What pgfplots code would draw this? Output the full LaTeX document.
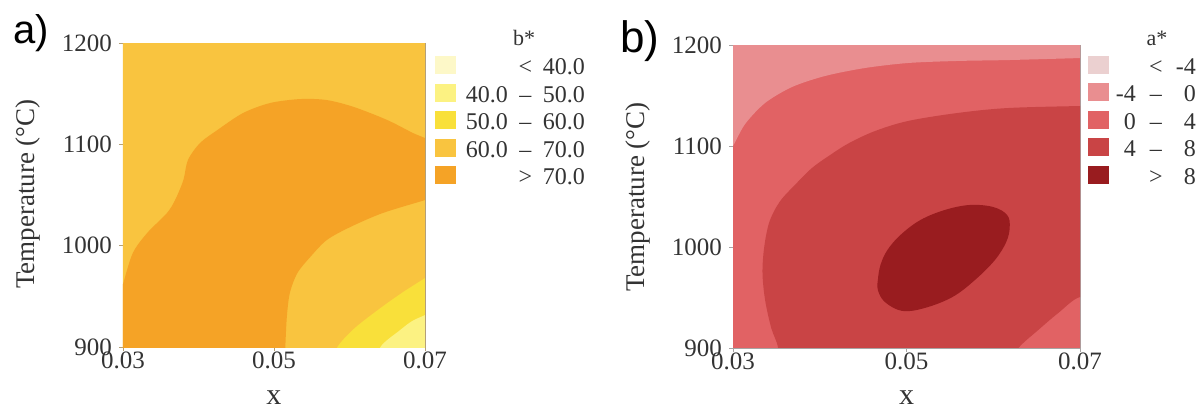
\documentclass[border=0pt]{standalone}
\usepackage{pgfplots}
\pgfplotsset{compat=1.18}
\usepackage{fontspec}
\setmainfont{Liberation Serif}
\newfontfamily\sansf{Liberation Sans}
\definecolor{ya}{HTML}{FDF8C8}
\definecolor{yb}{HTML}{FCF282}
\definecolor{yc}{HTML}{F9E03A}
\definecolor{yd}{HTML}{F9C43F}
\definecolor{ye}{HTML}{F5A326}
\definecolor{ra}{HTML}{EBD0D0}
\definecolor{rb}{HTML}{E98E90}
\definecolor{rc}{HTML}{E16264}
\definecolor{rd}{HTML}{C94445}
\definecolor{re}{HTML}{991C1F}
\definecolor{framea}{RGB}{180,160,120}
\definecolor{frameb}{RGB}{168,164,164}
\definecolor{txt}{HTML}{333333}
\pgfplotsset{
  common/.style={
    scale only axis, anchor=south west,
    xmin=0.03, xmax=0.07, ymin=900, ymax=1200,
    scaled x ticks=false, scaled y ticks=false,
    xtick={0.03,0.05,0.07}, xticklabels={0.03,0.05,0.07},
    ytick={900,1000,1100,1200}, yticklabels={900,1000,1100,1200},
    tick pos=left, tick align=outside, major tick length=2pt,
    ticklabel style={font=\fontsize{12.5}{14}\selectfont, text=txt},
    xticklabel style={yshift=3pt},
    label style={text=txt},
    xlabel={x}, ylabel={Temperature (°C)},
    xlabel style={font=\fontsize{15}{17}\selectfont, anchor=center},
    ylabel style={font=\fontsize{13.5}{16}\selectfont, anchor=center},
    legend cell align=left,
    legend image code/.code={\path[##1] (0pt,-2pt) rectangle (10.5pt,7pt);},
  },
  leg/.style={legend style={at={(axis description cs:#1)}, anchor=north west,
    draw=none, fill=none, inner sep=0pt, outer sep=0pt,
    font=\fontsize{12}{14}\selectfont, text=txt, row sep=0pt,
    nodes={inner sep=0pt, text height=9pt, text depth=4.5pt}}},
}
\begin{document}
\begin{tikzpicture}
\path[use as bounding box] (0,0) rectangle (600pt,-205.5pt);
% ---------------- panel a ----------------
\begin{axis}[common, at={(61.5pt,-173.5pt)}, width=151pt, height=152pt,
  axis line style={draw=framea}, tick style={draw=framea},
  xlabel style={at={(axis description cs:0.5,-0.165)}},
  ylabel style={at={(axis description cs:-0.315,0.503)}},
  leg={1.033,0.957}, legend style={column sep=5pt}]
\addplot[fill=yd, draw=none, forget plot] coordinates {(0.029,890) (0.071,890) (0.071,1210) (0.029,1210)};
\addplot[fill=ye, draw=none, smooth, tension=0.5, forget plot] coordinates {
(0.0514,880) (0.0290,880) (0.0292,940) (0.0300,962) (0.0313,992.7) (0.0332,1012.5)
(0.0358,1032) (0.0369,1045) (0.0380,1064.8) (0.0386,1084.5) (0.0402,1101.3)
(0.0425,1114.1) (0.0459,1130.9) (0.0495,1140.8) (0.0535,1144.7) (0.0570,1143.7)
(0.0606,1136.8) (0.0650,1124) (0.0684,1111.2) (0.0700,1106.2) (0.0720,1098)
(0.0725,1075) (0.0720,1050) (0.0700,1045) (0.0644,1032.2) (0.0601,1018.4)
(0.0570,1005.6) (0.0548,988.8) (0.0531,973) (0.0521,953.3) (0.0517,929.6) (0.0515,900)};
\addplot[fill=yc, draw=none, smooth, tension=0.5, forget plot] coordinates {
(0.0575,880) (0.0584,900) (0.0607,918.7) (0.0641,938.4) (0.0671,954.2) (0.0700,968)
(0.0725,980) (0.0750,960) (0.0750,880)};
\addplot[fill=yb, draw=none, smooth, tension=0.5, forget plot] coordinates {
(0.0638,880) (0.0641,900) (0.0667,916.7) (0.0683,925.6) (0.0700,931.5)
(0.0725,940) (0.0750,920) (0.0750,880)};
\addlegendimage{fill=ya, draw=none}
\addlegendentry{\makebox[21pt][r]{}\makebox[17.5pt]{<}\makebox[21pt][r]{40.0}}
\addlegendimage{fill=yb, draw=none}
\addlegendentry{\makebox[21pt][r]{40.0}\makebox[17.5pt]{–}\makebox[21pt][r]{50.0}}
\addlegendimage{fill=yc, draw=none}
\addlegendentry{\makebox[21pt][r]{50.0}\makebox[17.5pt]{–}\makebox[21pt][r]{60.0}}
\addlegendimage{fill=yd, draw=none}
\addlegendentry{\makebox[21pt][r]{60.0}\makebox[17.5pt]{–}\makebox[21pt][r]{70.0}}
\addlegendimage{fill=ye, draw=none}
\addlegendentry{\makebox[21pt][r]{}\makebox[17.5pt]{>}\makebox[21pt][r]{70.0}}
\end{axis}
% ---------------- panel b ----------------
\begin{axis}[common, at={(366.5pt,-174pt)}, width=173.5pt, height=151.5pt,
  axis line style={draw=frameb}, tick style={draw=frameb},
  xlabel style={at={(axis description cs:0.5,-0.165)}},
  ylabel style={at={(axis description cs:-0.274,0.498)}},
  leg={1.023,0.964}, legend style={column sep=3.5pt}]
\addplot[fill=rc, draw=none, forget plot] coordinates {(0.029,890) (0.071,890) (0.071,1210) (0.029,1210)};
\addplot[fill=rb, draw=none, smooth, tension=0.5, forget plot] coordinates {
(0.0285,1080) (0.0300,1100) (0.0314,1121.8) (0.0337,1142.6) (0.0368,1158.4)
(0.0406,1169.3) (0.0452,1177.2) (0.0502,1182.2) (0.0559,1184.2) (0.0617,1185.1)
(0.0700,1187.1) (0.0720,1188) (0.0740,1230) (0.0270,1230)};
\addplot[fill=rd, draw=none, smooth, tension=0.55, forget plot] coordinates {
(0.0354,870) (0.0352,900) (0.0344,920) (0.0337,947.5) (0.0334,974.3)
(0.0336,1000) (0.0342,1025) (0.0354,1045) (0.0372,1062) (0.0391,1078.2)
(0.0412,1091.1) (0.0434,1103) (0.0464,1114.9) (0.0502,1124.8) (0.0559,1132.7)
(0.0617,1137.6) (0.0700,1139.6) (0.0730,1140) (0.0750,1050) (0.0730,948)
(0.0700,950.5) (0.0675,934.7) (0.0652,917.9) (0.0629,900) (0.0615,880) (0.0450,865)};
\addplot[fill=re, draw=none, smooth, tension=0.6, forget plot] coordinates {
(0.0467,957.4) (0.0467,967.4) (0.0470,982.2) (0.0478,997) (0.0493,1011.9)
(0.0516,1026.7) (0.0544,1036.6) (0.0573,1041.6) (0.0600,1039.6) (0.0616,1031.7)
(0.0619,1019.8) (0.0615,1005) (0.0602,987.2) (0.0579,967.4) (0.0553,950.5)
(0.0521,939.6) (0.0495,936.7) (0.0475,945.6) (0.0467,957.4) (0.0467,967.4)};
\addlegendimage{fill=ra, draw=none}
\addlegendentry{\makebox[10pt][r]{}\makebox[20pt]{<}\makebox[10pt][r]{-4}}
\addlegendimage{fill=rb, draw=none}
\addlegendentry{\makebox[10pt][r]{-4}\makebox[20pt]{–}\makebox[10pt][r]{0}}
\addlegendimage{fill=rc, draw=none}
\addlegendentry{\makebox[10pt][r]{0}\makebox[20pt]{–}\makebox[10pt][r]{4}}
\addlegendimage{fill=rd, draw=none}
\addlegendentry{\makebox[10pt][r]{4}\makebox[20pt]{–}\makebox[10pt][r]{8}}
\addlegendimage{fill=re, draw=none}
\addlegendentry{\makebox[10pt][r]{}\makebox[20pt]{>}\makebox[10pt][r]{8}}
\end{axis}
% panel letters and legend titles
\node[font=\sansf\fontsize{20}{24}\selectfont, text=black] at (15.5pt,-16.5pt) {a)};
\node[font=\sansf\fontsize{22}{26}\selectfont, text=black] at (320pt,-20.5pt) {b)};
\node[font=\fontsize{11}{13}\selectfont, text=txt] at (262pt,-19pt) {b*};
\node[font=\fontsize{11}{13}\selectfont, text=txt] at (578.5pt,-19pt) {a*};
\end{tikzpicture}
\end{document}
